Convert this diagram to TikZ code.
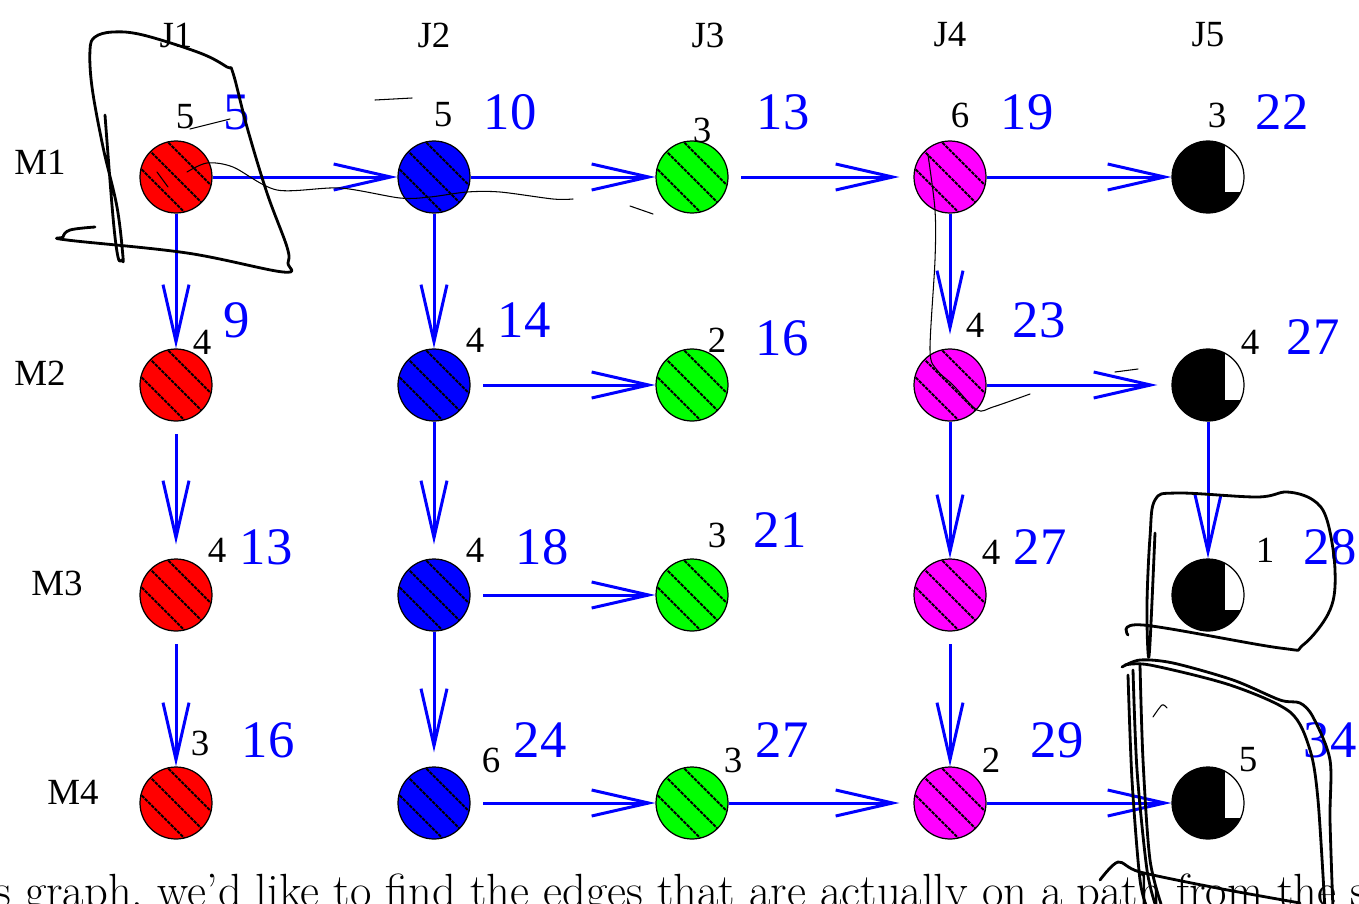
\documentclass[tikz,border=0pt]{standalone}
\usepackage{fontspec}
\newfontfamily\figfont{Liberation Serif}
\usetikzlibrary{arrows.meta}

\definecolor{jobred}{RGB}{255,0,0}
\definecolor{jobblue}{RGB}{0,0,255}
\definecolor{jobgreen}{RGB}{0,255,0}
\definecolor{jobmag}{RGB}{255,0,255}

\tikzset{
  task/.style={circle, draw=black, line width=0.7pt, minimum size=1.44cm, inner sep=0pt},
  hatched/.style={task, fill=#1,
    path picture={\foreach \s in {-0.268,0,0.268}
      \draw[black, line width=1.1pt, dash pattern=on 2pt off 0.6pt]
        ([xshift=\s cm-1cm, yshift=\s cm+1cm]path picture bounding box.center) --
        ([xshift=\s cm+1cm, yshift=\s cm-1cm]path picture bounding box.center);}},
  quarter/.style={task, fill=black,
    path picture={\fill[white]
        ([xshift=0.34cm, yshift=-0.30cm]path picture bounding box.center) rectangle
        ([xshift=1cm, yshift=1cm]path picture bounding box.center);}},
  head/.style={font=\figfont\fontsize{21}{24}\selectfont, inner sep=0pt},
  dur/.style={font=\figfont\fontsize{21}{24}\selectfont, inner sep=0pt},
  fin/.style={text=jobblue, font=\figfont\fontsize{30}{34}\selectfont, inner sep=0pt},
  flow/.style={draw=jobblue, line width=0.06cm, -{Straight Barb[length=1.14cm, width=0.52cm]}},
  gapin/.style={shorten >=0.28cm},
  gapout/.style={shorten <=0.25cm},
  scrawl/.style={line width=1.6pt, line cap=round, line join=round},
  trace/.style={line width=0.6pt, line cap=round}
}

\begin{document}
\begin{tikzpicture}[x=0.02cm, y=-0.02cm]
  \useasboundingbox (0,0) rectangle (1359,903);
  \clip (0,0) rectangle (1359,903);

  % headers
  \foreach \j/\x in {1/176,2/434,3/708,4/950,5/1208}
    \node[head] (J\j) at (\x,35) {J\j};
  \foreach \m/\x/\y in {1/40/162,2/40/373,3/57/583,4/73/792}
    \node[head] (M\m) at (\x,\y) {M\m};

  % operations
  \foreach \j/\x/\col in {1/176/jobred,2/434/jobblue,3/692/jobgreen,4/950/jobmag}
    \foreach \m/\y in {1/177,2/385,3/595,4/803}
      \node[hatched=\col] (m\m j\j) at (\x,\y) {};
  \foreach \m/\y in {1/177,2/385,3/595,4/803}
    \node[quarter] (m\m j5) at (1208,\y) {};

  % durations
  \foreach \n/\x/\y/\t in {11/185/117/5, 12/443/115/5, 13/702/130/3, 14/960/115/6, 15/1217/115/3,
      21/202/342/4, 22/475/340/4, 23/717/340/2, 24/975/325/4, 25/1250/342/4,
      31/217/550/4, 32/475/550/4, 33/717/535/3, 34/991/552/4, 35/1265/550/1,
      41/200/743/3, 42/491/760/6, 43/733/760/3, 44/991/760/2, 45/1248/760/5}
    \node[dur] (d\n) at (\x,\y) {\t};

  % completion times
  \foreach \n/\x/\y/\t in {11/237/112/5, 12/510/112/10, 13/783/112/13, 14/1027/112/19, 15/1282/112/22,
      21/237/320/9, 22/524/320/14, 23/782/338/16, 24/1039/320/23, 25/1313/337/27,
      31/266/547/13, 32/542/547/18, 33/780/530/21, 34/1040/547/27, 35/1330/547/28,
      41/268/740/16, 42/540/740/24, 43/782/740/27, 44/1057/740/29, 45/1330/740/34}
    \node[fin] (c\n) at (\x,\y) {\t};

  % machine order
  \draw[flow] (m1j1) -- (m1j2);
  \draw[flow] (m1j2) -- (m1j3);
  \draw[flow, gapout, gapin] (m1j3) -- (m1j4);
  \draw[flow] (m1j4) -- (m1j5);
  \draw[flow, gapout] (m2j2) -- (m2j3);
  \draw[flow, gapin] (m2j4) -- (m2j5);
  \draw[flow, gapout] (m3j2) -- (m3j3);
  \draw[flow, gapout] (m4j2) -- (m4j3);
  \draw[flow, gapin] (m4j3) -- (m4j4);
  \draw[flow] (m4j4) -- (m4j5);

  % job order
  \draw[flow] (m1j1) -- (m2j1);
  \draw[flow, gapout, gapin] (m2j1) -- (m3j1);
  \draw[flow, gapout] (m3j1) -- (m4j1);
  \draw[flow] (m1j2) -- (m2j2);
  \draw[flow, gapin] (m2j2) -- (m3j2);
  \draw[flow, gapin] (m3j2) -- (m4j2);
  \draw[flow, gapin] (m1j4) -- (m2j4);
  \draw[flow] (m2j4) -- (m3j4);
  \draw[flow, gapout] (m3j4) -- (m4j4);
  \draw[flow] (m2j5) -- (m3j5);

  % text below
  \node[anchor=base west, inner sep=0pt, font=\fontsize{26.5}{32}\selectfont] (caption) at (-6,906)
    {s graph, we'd like to find the edges that are actually on a path from the s};

  % pen marks
  \draw[scrawl] plot[smooth, tension=0.6] coordinates {(95,227) (70,230) (63,237) (67,240) (187,253) (283,272)
    (288,263) (287,247) (267,193) (247,127) (233,73) (227,67) (200,53) (143,35) (113,32) (95,37) (90,50)
    (92,87) (103,147) (117,207) (123,257) (122,260) (118,257) (113,217) (105,115)};
  \draw[trace] plot[smooth] coordinates {(187,172) (207,163) (233,167) (277,190) (340,188) (400,198)
    (430,197) (467,192) (500,192) (553,199) (573,199)};
  \draw[trace] (157,172) -- (168,187);
  \draw[trace] (190,129) -- (230,119);
  \draw[trace] (375,100) -- (412,98);
  \draw[trace] (630,206) -- (653,214);
  \draw[trace] plot[smooth] coordinates {(928,155) (935,210) (935,260) (930,350) (937,370) (953,385)
    (977,410) (993,407) (1030,394)};
  \draw[trace] (1115,372) -- (1138,369);
  \draw[scrawl] plot[smooth, tension=0.6] coordinates {(1128,635) (1143,625) (1280,648) (1303,645)
    (1330,610) (1335,570) (1327,520) (1313,500) (1287,492) (1257,497) (1177,493) (1155,500) (1150,537)
    (1147,603) (1148,652) (1150,643) (1155,533)};
  \draw[scrawl] plot[smooth] coordinates {(1122,667) (1140,660) (1173,663) (1233,680) (1280,700)
    (1300,703) (1313,717) (1330,760) (1330,820) (1333,910)};
  \draw[scrawl] plot[smooth] coordinates {(1125,665) (1150,665) (1230,685) (1290,712) (1310,750)
    (1318,800) (1325,910)};
  \draw[scrawl] plot[smooth] coordinates {(1133,670) (1137,770) (1147,870) (1157,910)};
  \draw[scrawl] plot[smooth] coordinates {(1128,675) (1132,780) (1140,880) (1148,910)};
  \draw[scrawl] plot[smooth] coordinates {(1140,665) (1143,760) (1150,860) (1163,910)};
  \draw[scrawl] plot[smooth] coordinates {(1100,880) (1118,862) (1140,872) (1217,888) (1300,903)};
  \draw[trace] plot[smooth] coordinates {(1153,717) (1162,705) (1167,708)};
\end{tikzpicture}
\end{document}
